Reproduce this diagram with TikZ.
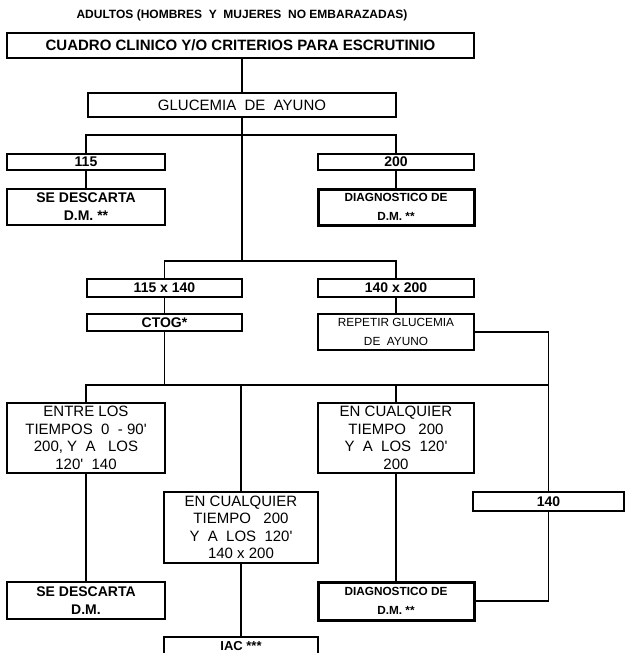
\documentclass[tikz,border=0pt]{standalone}
\usepackage{fontspec}
\setmainfont{Liberation Sans}
\newcommand{\minutos}{\textquotesingle}
\begin{document}
\begin{tikzpicture}[x=1pt,y=-1pt,
  line width=1.3pt,
  box/.style={draw, line width=1.3pt, inner sep=0pt, align=center},
  heavy/.style={box, line width=3pt},
  headbox/.style={box, line width=2.4pt},
  titlefont/.style={font=\fontsize{12}{13}\selectfont\bfseries},
  headfont/.style={font=\fontsize{15}{17}\selectfont\bfseries},
  regfont/.style={font=\fontsize{15}{17.5}\selectfont},
  boldfont/.style={font=\fontsize{14}{18}\selectfont\bfseries},
  smallbold/.style={font=\fontsize{11.8}{19}\selectfont\bfseries},
  smallreg/.style={font=\fontsize{11.8}{19}\selectfont},
  link/.style={draw, line width=1.3pt}
]
\useasboundingbox (0,0) rectangle (625,653);
\clip (0,0) rectangle (625,653);

% heading
\node[titlefont] (title) at (242,15) {ADULTOS (HOMBRES\ \ Y\ \ MUJERES\ \ NO EMBARAZADAS)};

% first level
\node[headbox, headfont, minimum width=467pt, minimum height=25pt] (A) at (240.5,45.5)
  {CUADRO CLINICO Y/O CRITERIOS PARA ESCRUTINIO};
\node[box, regfont, minimum width=308pt, minimum height=24pt] (G) at (242,105)
  {GLUCEMIA\ \ DE\ \ AYUNO};

% fasting glucose thresholds
\node[box, boldfont, minimum width=158pt, minimum height=16pt] (b115) at (86,162) {115};
\node[box, boldfont, minimum width=156pt, minimum height=16pt] (b200) at (396,162) {200};
\node[box, boldfont, minimum width=158pt, minimum height=36pt] (sd1) at (86,207)
  {SE DESCARTA\\D.M. **};
\node[heavy, smallbold, minimum width=156pt, minimum height=36pt] (dg1) at (396,207)
  {DIAGNOSTICO DE\\D.M. **};

% intermediate ranges
\node[box, boldfont, minimum width=155pt, minimum height=18pt] (b115x) at (164.5,288) {115 x 140};
\node[box, boldfont, minimum width=156pt, minimum height=18pt] (b140x) at (396,288) {140 x 200};
\node[box, boldfont, minimum width=155pt, minimum height=17pt] (ctog) at (164.5,322.5) {CTOG*};
\node[box, smallreg, minimum width=156pt, minimum height=36pt] (rep) at (396,332)
  {REPETIR GLUCEMIA\\DE\ \ AYUNO};

% tolerance test outcomes
\node[box, regfont, minimum width=158pt, minimum height=70pt] (entre) at (86,438)
  {ENTRE LOS\\TIEMPOS\ \ 0\ \ -\ 90\minutos\\200, Y\ \ A\ \ \ LOS\\120\minutos\ \ 140};
\node[box, regfont, minimum width=156pt, minimum height=70pt] (cualR) at (396,438)
  {EN CUALQUIER\\TIEMPO\ \ \ 200\\Y\ \ A\ \ LOS\ \ 120\minutos\\200};
\node[box, regfont, minimum width=154pt, minimum height=71pt] (cualM) at (241,527.5)
  {EN CUALQUIER\\TIEMPO\ \ \ 200\\Y\ \ A\ \ LOS\ \ 120\minutos\\140 x 200};
\node[box, boldfont, minimum width=151pt, minimum height=19pt] (b140) at (548.5,501.5) {140};

% final results
\node[box, boldfont, minimum width=158pt, minimum height=37pt] (sd2) at (86,600.5)
  {SE DESCARTA\\D.M.};
\node[heavy, smallbold, minimum width=156pt, minimum height=38pt] (dg2) at (396,601)
  {DIAGNOSTICO DE\\D.M. **};
% open-bottomed box running past the lower edge
\node[box, minimum width=154pt, minimum height=36pt] (iac) at (241,655) {};
\node[font=\fontsize{13}{13}\selectfont\bfseries, inner sep=0pt, anchor=base] (iactext)
  at (241,650) {IAC ***};

% junction levels
\coordinate (lvl1) at (0,135);
\coordinate (lvl2) at (0,261);
\coordinate (lvl3) at (0,385);

% connectors
\path[link] (G.north |- A.south) -- (G.north);
\path[link] (G.south) -- (G.south |- lvl2);
\path[link] (b115.north) -- (b115.north |- lvl1) -- (b200.north |- lvl1) -- (b200.north);
\path[link] (b115.south) -- (sd1.north);
\path[link] (b200.south) -- (dg1.north);
\path[link] (b115x.north) -- (b115x.north |- lvl2) -- (b140x.north |- lvl2) -- (b140x.north);
\path[link] (b115x.south) -- (ctog.north);
\path[link] (b140x.south) -- (rep.north);
\path[link] (ctog.south) -- (ctog.south |- lvl3);
\path[link] (rep.east) -- (rep.east -| b140.north) -- (b140.north);
\path[link] (entre.north) -- (entre.north |- lvl3) -- (b140.north |- lvl3);
\path[link] (cualM.north |- lvl3) -- (cualM.north);
\path[link] (cualR.north |- lvl3) -- (cualR.north);
\path[link] (entre.south) -- (sd2.north);
\path[link] (cualR.south) -- (dg2.north);
\path[link] (cualM.south) -- (iac.north);
\path[link] (b140.south) |- (dg2.east);
\end{tikzpicture}
\end{document}
